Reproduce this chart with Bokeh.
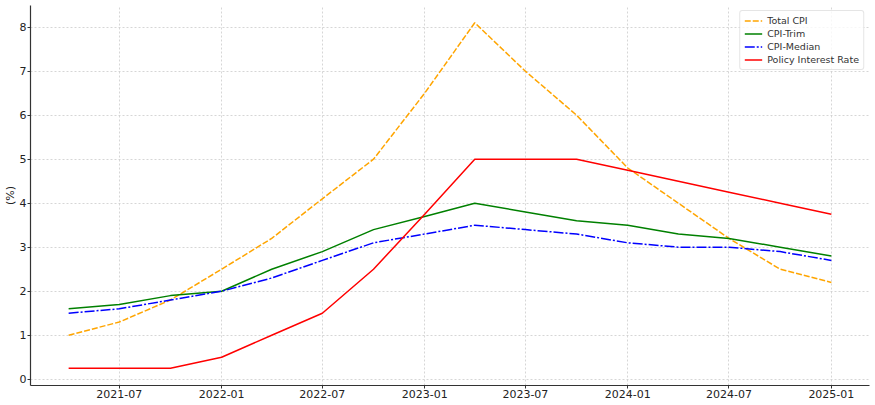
import pandas as pd
from bokeh.plotting import figure
from bokeh.models import Range1d, FixedTicker, DatetimeTickFormatter, Legend, LegendItem
from bokeh.embed import file_html
from bokeh.resources import INLINE

dates = ["2021-04-01", "2021-07-01", "2021-10-01", "2022-01-01", "2022-04-01", "2022-07-01",
         "2022-10-01", "2023-01-01", "2023-04-01", "2023-07-01", "2023-10-01", "2024-01-01",
         "2024-04-01", "2024-07-01", "2024-10-01", "2025-01-01"]
total_cpi = [1.0, 1.3, 1.8, 2.5, 3.2, 4.1, 5.0, 6.5, 8.1, 7.0, 6.0, 4.8, 4.0, 3.2, 2.5, 2.2]
cpi_trim = [1.6, 1.7, 1.9, 2.0, 2.5, 2.9, 3.4, 3.7, 4.0, 3.8, 3.6, 3.5, 3.3, 3.2, 3.0, 2.8]
cpi_median = [1.5, 1.6, 1.8, 2.0, 2.3, 2.7, 3.1, 3.3, 3.5, 3.4, 3.3, 3.1, 3.0, 3.0, 2.9, 2.7]
policy_rate = [0.25, 0.25, 0.25, 0.5, 1.0, 1.5, 2.5, 3.75, 5.0, 5.0, 5.0, 4.75, 4.5, 4.25, 4.0, 3.75]
tick_dates = ["2021-07-01", "2022-01-01", "2022-07-01", "2023-01-01", "2023-07-01", "2024-01-01",
              "2024-07-01", "2025-01-01"]
y_ticks = [0, 1, 2, 3, 4, 5, 6, 7, 8]

x = pd.to_datetime(dates)
x_ms = [t.value / 1e6 for t in x]
span = x_ms[-1] - x_ms[0]
allv = total_cpi + cpi_trim + cpi_median + policy_rate
ymin, ymax = min(allv), max(allv)
yspan = ymax - ymin

p = figure(width=875, height=405, x_axis_type="datetime", output_backend="svg",
           toolbar_location=None,
           x_range=Range1d(x_ms[0] - 0.05 * span, x_ms[-1] + 0.05 * span),
           y_range=Range1d(ymin - 0.05 * yspan, ymax + 0.05 * yspan),
           min_border_top=5, min_border_right=6, min_border_left=29, min_border_bottom=20)
p.outline_line_color = None
p.background_fill_color = "white"
p.border_fill_color = "white"

r1 = p.line(x, total_cpi, line_color="orange", line_width=1.5, line_dash="6 2")
r2 = p.line(x, cpi_trim, line_color="green", line_width=1.5)
r3 = p.line(x, cpi_median, line_color="blue", line_width=1.5, line_dash="10 2 2 2")
r4 = p.line(x, policy_rate, line_color="red", line_width=1.5)

legend = Legend(items=[LegendItem(label="Total CPI", renderers=[r1]),
                       LegendItem(label="CPI-Trim", renderers=[r2]),
                       LegendItem(label="CPI-Median", renderers=[r3]),
                       LegendItem(label="Policy Interest Rate", renderers=[r4])],
                location="top_right")
legend.label_text_font = "DejaVu Sans"
legend.label_text_font_size = "9.5px"
legend.label_text_color = "#333333"
legend.label_height = 11
legend.label_standoff = 5
legend.glyph_width = 18
legend.glyph_height = 11
legend.spacing = 2
legend.padding = 4
legend.margin = 5
legend.border_line_color = "#cccccc"
legend.border_line_width = 1
legend.border_radius = 3
legend.background_fill_alpha = 0.8
p.add_layout(legend)

p.xaxis.ticker = FixedTicker(ticks=[pd.Timestamp(d).value / 1e6 for d in tick_dates])
p.xaxis.formatter = DatetimeTickFormatter(months="%Y-%m", days="%Y-%m", years="%Y-%m")
p.yaxis.ticker = FixedTicker(ticks=y_ticks)
p.yaxis.axis_label = "(%)"

for ax in (p.xaxis[0], p.yaxis[0]):
    ax.axis_line_color = "#333333"
    ax.axis_line_width = 1.2
    ax.major_tick_line_color = "#333333"
    ax.major_tick_out = 3
    ax.major_tick_in = 0
    ax.minor_tick_out = 0
    ax.minor_tick_in = 0
    ax.major_label_text_font = "DejaVu Sans"
    ax.major_label_text_font_size = "11px"
    ax.major_label_text_color = "#222222"
    ax.major_label_standoff = 1
    ax.axis_label_text_font = "DejaVu Sans"
    ax.axis_label_text_font_size = "11px"
    ax.axis_label_text_font_style = "normal"
    ax.axis_label_text_color = "#222222"
    ax.axis_label_standoff = 0

p.grid.grid_line_color = "#cccccc"
p.grid.grid_line_dash = "2 2"
p.grid.grid_line_width = 0.8

open("out.html", "w").write(file_html(p, INLINE))
